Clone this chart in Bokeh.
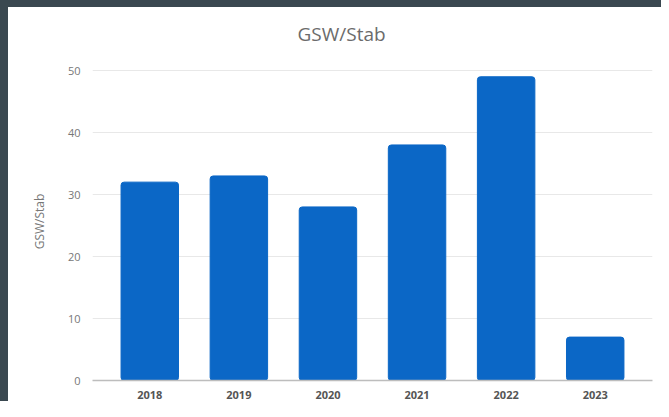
from bokeh.plotting import figure
from bokeh.models import FactorRange, Range1d, ColumnDataSource
from bokeh.embed import file_html
from bokeh.resources import INLINE

years = ["2018", "2019", "2020", "2021", "2022", "2023"]
values = [32, 33, 28, 38, 49, 7]
y_ticks = [0, 10, 20, 30, 40, 50]
title_text = "GSW/Stab"
y_label = "GSW/Stab"

FONT = "Open Sans"
DARK = "#3a4850"

source = ColumnDataSource(data=dict(year=years, value=values))

p = figure(
    width=661, height=401,
    x_range=FactorRange(*years, range_padding=0.143, range_padding_units="absolute"),
    y_range=Range1d(0, 51.3),
    output_backend="svg", toolbar_location=None,
    min_border_left=92, min_border_right=9, min_border_top=62, min_border_bottom=21,
    styles={"background-color": "white",
            "vertical-align": "top",
            "margin-right": "-8px",
            "box-shadow": "inset 8px 7px 0 0 " + DARK},
)
p.border_fill_alpha = 0
p.background_fill_color = "white"
p.outline_line_color = None

p.vbar(x="year", top="value", width=0.645, source=source,
       fill_color="#0b67c6", line_color="#0b67c6", border_radius=3)

p.title.text = title_text
p.title.align = "left"
p.title.offset = 205
p.title.standoff = 31
p.title.text_font = FONT
p.title.text_font_size = "19px"
p.title.text_font_style = "normal"
p.title.text_color = "#6b6b6b"

p.xgrid.grid_line_color = None
p.ygrid.grid_line_color = "#e8e8e8"
p.ygrid.ticker = y_ticks

p.yaxis.ticker = y_ticks
p.yaxis.axis_line_color = None
p.yaxis.major_tick_line_color = None
p.yaxis.minor_tick_line_color = None
p.yaxis.major_label_text_font = FONT
p.yaxis.major_label_text_font_size = "11px"
p.yaxis.major_label_text_color = "#777777"
p.yaxis.major_label_standoff = 6
p.yaxis.axis_label = y_label
p.yaxis.axis_label_text_font = FONT
p.yaxis.axis_label_text_font_size = "12px"
p.yaxis.axis_label_text_font_style = "normal"
p.yaxis.axis_label_text_color = "#777777"
p.yaxis.axis_label_standoff = 17

p.xaxis.axis_line_color = "#bdbdbd"
p.xaxis.axis_line_width = 1.5
p.xaxis.major_tick_line_color = None
p.xaxis.minor_tick_line_color = None
p.xaxis.major_label_text_font = FONT
p.xaxis.major_label_text_font_size = "11px"
p.xaxis.major_label_text_font_style = "bold"
p.xaxis.major_label_text_color = "#555555"
p.xaxis.major_label_standoff = 4

open("out.html", "w").write(file_html(p, INLINE))
